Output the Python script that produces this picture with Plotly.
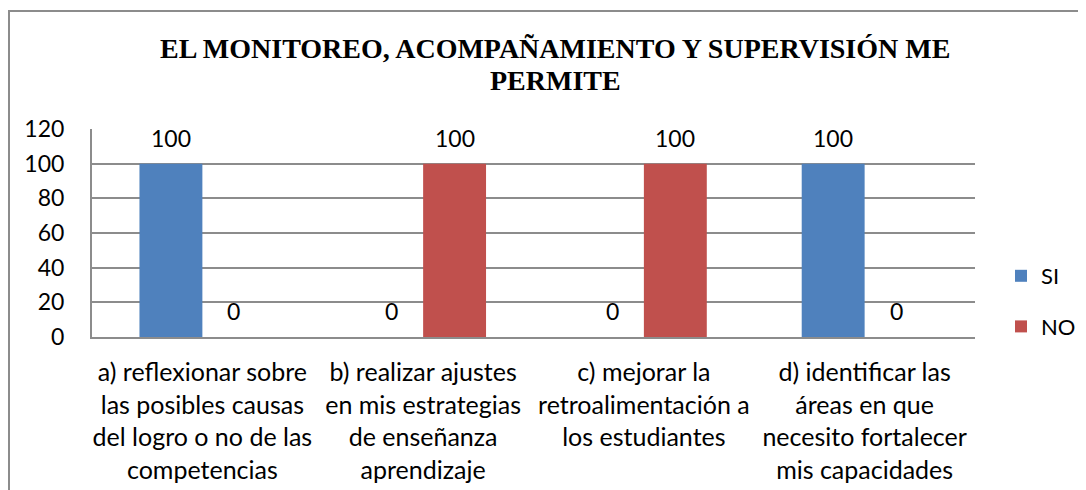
import plotly.graph_objects as go

categories = [
    "a) reflexionar sobre<br>las posibles causas<br>del logro o no de las<br>competencias",
    "b) realizar ajustes<br>en mis estrategias<br>de enseñanza<br>aprendizaje",
    "c) mejorar la<br>retroalimentación a<br>los estudiantes",
    "d) identificar las<br>áreas en que<br>necesito fortalecer<br>mis capacidades",
]
si_values = [100, 0, 0, 100]
no_values = [0, 100, 100, 0]
series_names = ["SI", "NO"]
title_lines = ["EL MONITOREO, ACOMPAÑAMIENTO Y SUPERVISIÓN ME", "PERMITE"]
y_ticks = [0, 20, 40, 60, 80, 100, 120]

FONT = "Lato"
GRID = "#8c8c8c"
COLORS = ["#4F81BD", "#C0504D"]

# page body has an 8px margin; figure coordinates are page - 8
W, H = 1078, 482
L, R, T, B = 84, 967, 121, 329
PW, PH = R - L, B - T
BARGAP = 0.43
bar_px = (1 - BARGAP) / 2 * PW / len(categories)

fig = go.Figure()
series = [si_values, no_values]
for k, (name, vals) in enumerate(zip(series_names, series)):
    fig.add_trace(go.Bar(
        x=list(range(len(categories))), y=vals, name=name,
        marker=dict(color=COLORS[k], line=dict(width=0)),
        legendgroup="g%d" % k, hoverinfo="x+y+name",
    ))
    for i, v in enumerate(vals):
        fig.add_annotation(
            x=i, y=v, xref="x", yref="y", text=str(v), showarrow=False,
            xshift=(k - 0.5) * bar_px, yshift=26, yanchor="middle",
            font=dict(family=FONT, size=23, color="#000000"),
        )

for j, line in enumerate(title_lines):
    fig.add_annotation(
        text="<b>%s</b>" % line, xref="paper", yref="paper", showarrow=False,
        x=(547 - L) / PW, xanchor="center",
        y=(B - [40.5, 73][j]) / PH, yanchor="middle",
        font=dict(family="Liberation Serif", size=28, color="#000000"),
    )

fig.update_layout(
    width=W, height=H,
    margin=dict(l=L, r=W - R, t=T, b=H - B, autoexpand=False),
    paper_bgcolor="white", plot_bgcolor="white",
    barmode="group", bargap=BARGAP, bargroupgap=0,
    font=dict(family=FONT, size=23, color="#000000"),
    showlegend=True,
    legend=dict(x=(993 - L) / PW, y=(B - 247) / PH, xanchor="left", yanchor="top",
                font=dict(family=FONT, size=22), tracegroupgap=19,
                itemwidth=30, bgcolor="rgba(0,0,0,0)"),
    xaxis=dict(tickmode="array", tickvals=list(range(len(categories))), ticktext=categories,
               showline=True, linecolor=GRID, linewidth=2, showgrid=False, zeroline=False,
               ticks="outside", ticklen=12, tickcolor="rgba(0,0,0,0)",
               range=[-0.5, 3.5], tickfont=dict(family=FONT, size=25), automargin=False),
    yaxis=dict(range=[0, 120], tickvals=y_ticks, showline=True, linecolor=GRID, linewidth=2,
               showgrid=True, gridcolor=GRID, gridwidth=2, zeroline=False,
               ticks="outside", ticklen=21, tickcolor="rgba(0,0,0,0)",
               tickfont=dict(family=FONT, size=23), automargin=False),
)

# outer chart border
fig.add_shape(type="rect", xref="paper", yref="paper",
              x0=(1 - L) / PW, x1=1.3, y0=-1.2, y1=(B - 3) / PH,
              line=dict(color="#8c8c8c", width=2), fillcolor="rgba(0,0,0,0)", layer="below")

fig.write_html("out.html")
